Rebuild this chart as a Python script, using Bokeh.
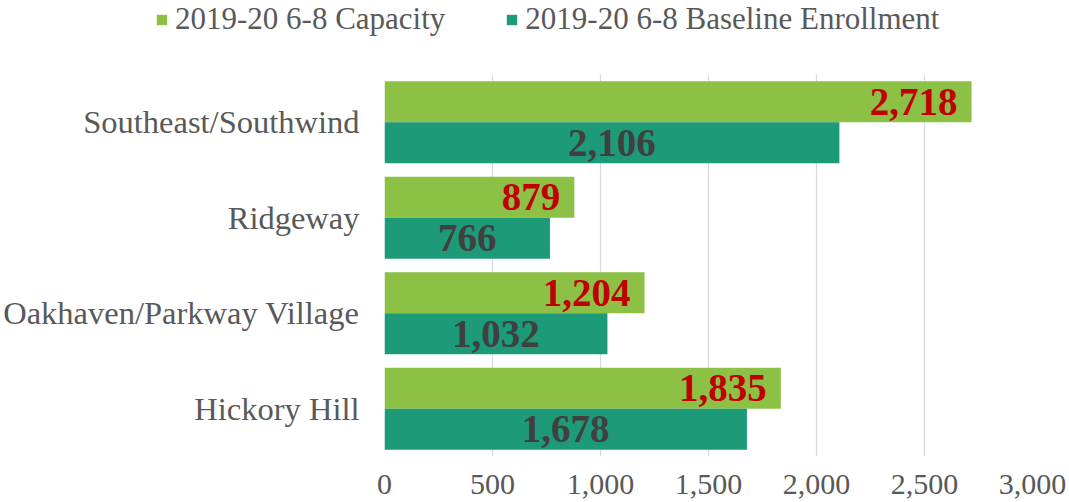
from bokeh.plotting import figure
from bokeh.layouts import column
from bokeh.models import (ColumnDataSource, FactorRange, Range1d, Legend, LegendItem,
                          NumeralTickFormatter, FixedTicker)
from bokeh.transform import dodge
from bokeh.core.properties import value
from bokeh.embed import file_html
from bokeh.resources import INLINE

# ---- data ----
categories = ["Southeast/Southwind", "Ridgeway", "Oakhaven/Parkway Village", "Hickory Hill"]
capacity = [2718, 879, 1204, 1835]
enrollment = [2106, 766, 1032, 1678]
x_ticks = [0, 500, 1000, 1500, 2000, 2500, 3000]
series_names = ["2019-20 6-8 Capacity", "2019-20 6-8 Baseline Enrollment"]

# ---- style ----
FONT = "Liberation Serif"
CAP_COLOR = "#8DC146"
ENR_COLOR = "#1D9A78"
TEXT_GRAY = "#595959"

src = ColumnDataSource(dict(
    cat=categories,
    cap=capacity,
    enr=enrollment,
    enr_mid=[v / 2 for v in enrollment],
    cap_lbl=[f"{v:,}" for v in capacity],
    enr_lbl=[f"{v:,}" for v in enrollment],
))

# ---------- legend strip (own figure, frame spans full width) ----------
lg = figure(width=1069, height=60, x_range=Range1d(0, 3000),
            y_range=FactorRange(factors=list(reversed(categories))),
            x_axis_type=None, y_axis_type=None,
            output_backend="svg", toolbar_location=None,
            min_border_left=0, min_border_right=0,
            min_border_top=0, min_border_bottom=0)
lg.frame_align = False
lg.outline_line_color = None
lg.xgrid.visible = False
lg.ygrid.visible = False
# zero-height proxies of the two series: invisible, used only for legend swatches
l_cap = lg.hbar(y="cat", left=0, right="cap", height=0, source=src,
                fill_color=CAP_COLOR, line_color=None)
l_enr = lg.hbar(y="cat", left=0, right="enr", height=0, source=src,
                fill_color=ENR_COLOR, line_color=None)
legend = Legend(items=[LegendItem(label=series_names[0], renderers=[l_cap]),
                       LegendItem(label=series_names[1], renderers=[l_enr])],
                orientation="horizontal", location=(155, 23),
                padding=0, margin=0, spacing=60, label_standoff=7,
                glyph_width=13, glyph_height=13,
                label_text_font=FONT, label_text_font_size="31px",
                label_text_color=TEXT_GRAY,
                border_line_color=None, background_fill_alpha=0)
lg.add_layout(legend)

# ---------- main chart ----------
p = figure(width=1069, height=442,
           y_range=FactorRange(factors=list(reversed(categories)), range_padding=0),
           x_range=Range1d(0, 3000),
           output_backend="svg", toolbar_location=None,
           min_border_left=383, min_border_right=37,
           min_border_top=14, min_border_bottom=46)
p.frame_align = False
p.outline_line_color = None

r_cap = p.hbar(y=dodge("cat", 0.215, range=p.y_range), left=0, right="cap", height=0.43,
               source=src, fill_color=CAP_COLOR, line_color=None)
r_enr = p.hbar(y=dodge("cat", -0.215, range=p.y_range), left=0, right="enr", height=0.43,
               source=src, fill_color=ENR_COLOR, line_color=None)

p.text(x="cap", y=dodge("cat", 0.215, range=p.y_range), text="cap_lbl", source=src,
       x_offset=-14, text_align="right", text_baseline="middle",
       text_font=value(FONT), text_font_style="bold", text_font_size="39px",
       text_color="#C00000")
p.text(x="enr_mid", y=dodge("cat", -0.215, range=p.y_range), text="enr_lbl", source=src,
       text_align="center", text_baseline="middle",
       text_font=value(FONT), text_font_style="bold", text_font_size="39px",
       text_color="#404040")

p.xaxis.ticker = FixedTicker(ticks=x_ticks)
p.xaxis.formatter = NumeralTickFormatter(format="0,0")
for ax in (p.xaxis, p.yaxis):
    ax.axis_line_color = None
    ax.major_tick_line_color = None
    ax.minor_tick_line_color = None
    ax.major_tick_out = 0
    ax.major_tick_in = 0
    ax.major_label_text_font = FONT
    ax.major_label_text_color = TEXT_GRAY
p.xaxis.major_label_text_font_size = "30px"
p.yaxis.major_label_text_font_size = "32.5px"
p.xaxis.major_label_standoff = 18
p.yaxis.major_label_standoff = 25

p.xgrid.grid_line_color = "#D9D9D9"
p.xgrid.grid_line_width = 1.3
p.ygrid.grid_line_color = None

layout = column(lg, p, spacing=0)
open("out.html", "w").write(file_html(layout, INLINE))
